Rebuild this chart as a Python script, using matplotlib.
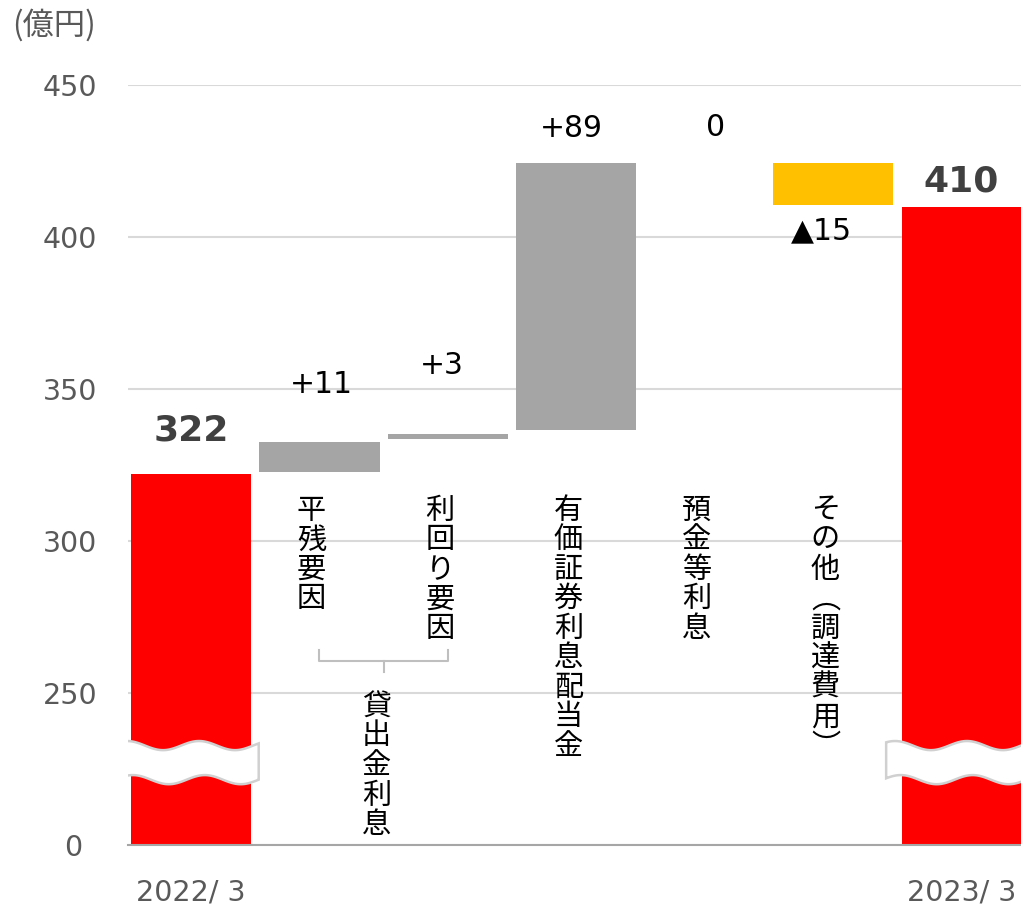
import numpy as np
import matplotlib
matplotlib.use("Agg")
from matplotlib import pyplot as plt

plt.rcParams['font.family'] = ['DejaVu Sans', 'Noto Sans CJK JP']

# data (億円)
categories = ['2022/3', '平残要因', '利回り要因', '有価証券利息配当金', '預金等利息', 'その他︵調達費用︶', '2023/3']
span_low = [0, 322.7, 333.6, 336.5, 424.5, 410.5, 0]
span_high = [322, 332.6, 335.2, 424.3, 424.5, 424.3, 410]
bar_colors = ['#FF0000', '#A5A5A5', '#A5A5A5', '#A5A5A5', '#A5A5A5', '#FFC000', '#FF0000']
value_labels = ['322', '+11', '+3', '+89', '0', '▲15', '410']
xtick_labels = ['2022/ 3', '', '', '', '', '', '2023/ 3']
yticks = [200, 250, 300, 350, 400, 450]
ytick_labels = ['0\u2002', '250', '300', '350', '400', '450']
group_label = '貸出金利息'

PX = 0.72  # points per pixel at dpi 100
fig = plt.figure(figsize=(10.21, 9.05), dpi=100)
ax = fig.add_axes([128 / 1021, 60 / 905, 893 / 1021, 760 / 905])

x = np.arange(len(categories))
heights = [h - l for l, h in zip(span_low, span_high)]
ax.bar(x, heights, bottom=span_low, width=0.935, color=bar_colors, zorder=3)

ax.set_ylim(200, 450)
ax.set_xlim(-0.49, 6.46)
ax.set_yticks(yticks)
ax.set_yticklabels(ytick_labels)
ax.set_xticks(x)
ax.set_xticklabels(xtick_labels)
ax.tick_params(axis='y', length=0, pad=22, labelsize=20.5, labelcolor='#595959')
ax.tick_params(axis='x', length=0, pad=24, labelsize=20.5, labelcolor='#595959')
ax.grid(axis='y', color='#D9D9D9', lw=1.5, zorder=0)
for s in ['top', 'right', 'left']:
    ax.spines[s].set_visible(False)
ax.spines['bottom'].set_color('#A6A6A6')
ax.spines['bottom'].set_linewidth(1.5)
ax.spines['bottom'].set_zorder(4)

# value labels (offset in px from bar top / bottom)
label_off = [-44, -57, -68, -35, -35, 26, -25]
for i, lab in enumerate(value_labels):
    bold = i in (0, 6)
    if i == 5:
        ref = span_low[i]
    else:
        ref = max(span_high[i], span_low[i])
    dx = [0, 2, -6, -5, 11, -12, -1][i]
    ax.annotate(lab, (x[i], ref), xytext=(dx * PX, -label_off[i] * PX),
                textcoords='offset points', ha='center', va='center',
                fontsize=26 if bold else 21.5, fontweight='bold' if bold else 'normal',
                color='#404040' if bold else 'black', zorder=5)


def vtext(xc, y, s, dx_px=0):
    for k, ch in enumerate(s):
        ax.annotate(ch, (xc, y), xytext=(dx_px * PX, -k * 29.5 * PX),
                    textcoords='offset points', ha='center', va='center',
                    fontsize=21, family='Noto Sans CJK JP', color='black',
                    annotation_clip=False, zorder=5)


for i in range(1, 6):
    vtext(x[i], 309.9, categories[i], dx_px=-8)

# bracket grouping the two loan factors
by_top, by_mid, by_bot = 264.1, 260.5, 256.9
ax.plot([x[1], x[1], x[2], x[2]], [by_top, by_mid, by_mid, by_top], color='#BFBFBF', lw=1.5, zorder=2)
xm = (x[1] + x[2]) / 2
ax.plot([xm, xm], [by_mid, by_bot], color='#BFBFBF', lw=1.5, zorder=2)
vtext(xm, 245.4, group_label, dx_px=-7)

# axis break marks on the total bars
def break_mark(xc, left_px, right_px):
    xs = np.linspace(xc - 0.465 - left_px / 128.5, xc + 0.465 + right_px / 128.5, 120)
    ph = (xs - xs[0]) / (72 / 128.5) * 2 * np.pi
    amp = 1.5
    top = 232.7 + amp * np.sin(ph + 0.8)
    bot = 221.5 + amp * np.sin(ph + 0.3)
    px = np.concatenate([xs, xs[::-1]])
    py = np.concatenate([top, bot[::-1]])
    ax.fill(px, py, facecolor='white', edgecolor='#D0D0D0', lw=1.8, zorder=4)


break_mark(x[0], 13, 8)
break_mark(x[6], 16, 20)

fig.text(12 / 1021, 1 - 25 / 905, '(億円)', ha='left', va='center', fontsize=22.5,
         color='#595959', family=['Noto Sans CJK JP'])

fig.savefig('out.png', dpi=100)
